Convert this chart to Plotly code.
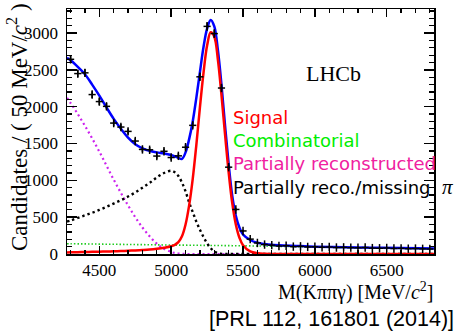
import numpy as np
import plotly.graph_objects as go

# ---------------- data ----------------
mass_bins = list(range(4300, 6801, 50))          # bin centres, 50 MeV bins
counts = [2644, 2450, 2460, 2165, 2070, 2005, 1778, 1724, 1665, 1534,
          1420, 1415, 1330, 1395, 1310, 1333, 1450, 1747, 2406, 3091,
          2993, 2254, 1179, 605, 313, 202, 150, 128, 120, 108,
          112, 100, 104, 96, 98, 92, 95, 88, 90, 86,
          84, 88, 80, 78, 82, 75, 77, 72, 74, 70, 68]

fit_mass = [4275, 4300, 4350, 4400, 4450, 4500, 4550, 4600, 4650, 4700,
            4750, 4800, 4850, 4900, 4950, 5000, 5025, 5050, 5075, 5100,
            5125, 5150, 5175, 5200, 5225, 5250, 5275, 5300, 5325, 5350,
            5375, 5400, 5425, 5450, 5475, 5500, 5550, 5600, 5650, 5700,
            5800, 5900, 6000, 6200, 6400, 6600, 6829]

total_fit = [2665, 2630, 2540, 2440, 2300, 2150, 1990, 1835, 1700, 1580,
             1490, 1435, 1400, 1380, 1365, 1345, 1325, 1305, 1292, 1380,
             1560, 1800, 2120, 2470, 2810, 3060, 3178, 3090, 2770, 2300,
             1740, 1220, 790, 520, 360, 265, 190, 152, 135, 124,
             114, 107, 100, 92, 85, 80, 74]

signal = [22, 23, 25, 27, 29, 31, 34, 37, 40, 44,
          49, 55, 62, 72, 85, 105, 125, 160, 240, 400,
          660, 1020, 1480, 1990, 2460, 2830, 3010, 2950, 2640, 2160,
          1620, 1110, 690, 400, 220, 120, 35, 10, 3, 1,
          0, 0, 0, 0, 0, 0, 0]

combinatorial = [140, 139, 138, 137, 136, 134, 133, 132, 131, 129,
                 128, 127, 126, 124, 123, 122, 121, 121, 120, 120,
                 119, 119, 118, 118, 117, 117, 116, 116, 115, 115,
                 114, 114, 113, 113, 112, 112, 110, 109, 108, 106,
                 103, 99, 96, 89, 83, 78, 72]

part_reco = [2120, 2050, 1900, 1740, 1570, 1390, 1200, 1010, 830, 660,
             500, 360, 240, 140, 70, 28, 14, 6, 2, 0,
             0, 0, 0, 0, 0, 0, 0, 0, 0, 0,
             0, 0, 0, 0, 0, 0, 0, 0, 0, 0,
             0, 0, 0, 0, 0, 0, 0]

missing_pi = [440, 455, 490, 525, 560, 598, 640, 685, 730, 780,
              835, 900, 965, 1040, 1100, 1130, 1110, 1060, 970, 850,
              700, 570, 440, 330, 230, 145, 80, 35, 10, 2,
              0, 0, 0, 0, 0, 0, 0, 0, 0, 0,
              0, 0, 0, 0, 0, 0, 0]

x_ticks = [4500, 5000, 5500, 6000, 6500]
y_ticks = [0, 500, 1000, 1500, 2000, 2500, 3000]

# ---------------- figure ----------------
W, H = 463, 332
L, R, T, B = 67, 29, 7, 78
PW, PH = W - L - R, H - T - B


def px(xp):
    return (xp - L) / PW


def py(yp):
    return (H - B - yp) / PH


fig = go.Figure()

fig.add_trace(go.Scatter(x=fit_mass, y=combinatorial, mode="lines", line_shape="spline",
                         line=dict(color="#22cc22", width=1.6, dash="1.5px,2px")))
fig.add_trace(go.Scatter(x=fit_mass, y=part_reco, mode="lines", line_shape="spline",
                         line=dict(color="#cc22ee", width=2.2, dash="2px,3px")))
fig.add_trace(go.Scatter(x=fit_mass, y=missing_pi, mode="lines", line_shape="spline",
                         line=dict(color="black", width=2.4, dash="2.4px,3px")))
fig.add_trace(go.Scatter(x=fit_mass, y=total_fit, mode="lines", line_shape="spline",
                         line=dict(color="#0000ff", width=2.5)))
fig.add_trace(go.Scatter(x=fit_mass, y=signal, mode="lines", line_shape="spline",
                         line=dict(color="#ff0000", width=2.5)))
fig.add_trace(go.Scatter(
    x=mass_bins, y=counts, mode="markers",
    marker=dict(symbol="line-ns", size=6, color="black", line=dict(color="black", width=1.5)),
    error_x=dict(type="constant", value=25, width=0, thickness=1.5, color="black"),
    error_y=dict(type="data", array=list(np.sqrt(counts)), width=0, thickness=1.5, color="black"),
))

axis_common = dict(showline=True, linecolor="black", linewidth=1.5, mirror="allticks",
                   ticks="inside", tickcolor="black", tickwidth=1.5,
                   showgrid=False, zeroline=False,
                   tickfont=dict(family="Liberation Serif", size=17, color="black"))

fig.update_xaxes(range=[4275, 6829], tickvals=x_ticks, ticklen=8,
                 minor=dict(ticks="inside", ticklen=4, dtick=100, tick0=4300,
                            tickcolor="black", tickwidth=1.2),
                 ticklabelstandoff=0, **axis_common)
fig.update_yaxes(range=[0, 3327], tickvals=y_ticks, ticklen=10,
                 minor=dict(ticks="inside", ticklen=5, dtick=100, tick0=0,
                            tickcolor="black", tickwidth=1.2),
                 ticklabelstandoff=4, **axis_common)

serif = "Liberation Serif"
sans = "DejaVu Sans"
annotations = [
    dict(text="Candidates / ( 50 MeV/<i>c</i><sup>2</sup> )", textangle=-90,
         x=px(17), y=py(126), font=dict(family=serif, size=23, color="black")),
    dict(text="M(K\u03c0\u03c0\u03b3) [MeV/<i>c</i><sup>2</sup>]",
         x=px(435), y=py(292), xanchor="right",
         font=dict(family=serif, size=20, color="black")),
    dict(text="[PRL 112, 161801 (2014)]", x=px(456), y=py(320), xanchor="right",
         font=dict(family="Liberation Sans", size=21.5, color="black")),
    dict(text="LHCb", x=px(333), y=py(72), font=dict(family=serif, size=22, color="black")),
    dict(text="Signal", x=px(231), y=py(116), xanchor="left",
         font=dict(family=sans, size=18, color="#ff0000")),
    dict(text="Combinatorial", x=px(231), y=py(139.5), xanchor="left",
         font=dict(family=sans, size=18, color="#00ee00")),
    dict(text="Partially reconstructed", x=px(231), y=py(163), xanchor="left",
         font=dict(family=sans, size=18, color="#f020a0")),
    dict(text="Partially reco./missing\u00a0 <span style=\"font-family:Liberation Serif;font-size:21px\"><i>\u03c0</i></span>",
         x=px(231), y=py(186), xanchor="left",
         font=dict(family=sans, size=18, color="black")),
]
for a in annotations:
    a.update(xref="paper", yref="paper", showarrow=False)
    a.setdefault("xanchor", "center")
    a.setdefault("yanchor", "middle")

fig.update_layout(width=W, height=H, margin=dict(l=L, r=R, t=T, b=B),
                  paper_bgcolor="white", plot_bgcolor="white",
                  showlegend=False, annotations=annotations)

fig.write_html("out.html", config={"displayModeBar": False, "staticPlot": True},
               post_script="document.body.style.margin='0px';document.body.style.overflow='hidden';")
